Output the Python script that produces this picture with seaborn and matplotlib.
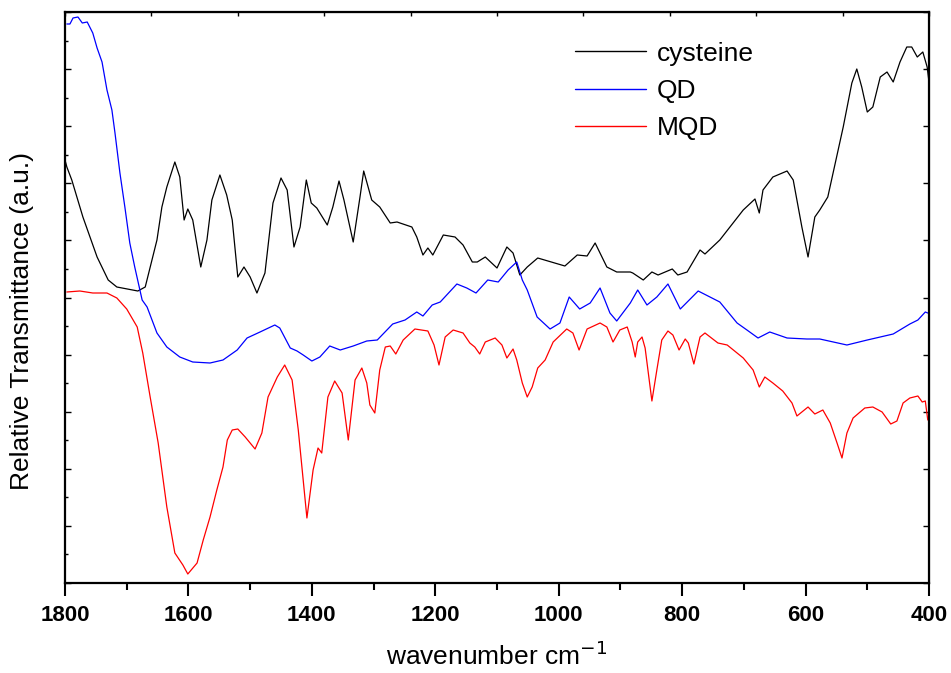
import numpy as np
import pandas as pd
import matplotlib
matplotlib.use("Agg")
import matplotlib.pyplot as plt
import seaborn as sns

# ---- data (wavenumber, relative transmittance in arbitrary units) ----
cys_wn = [1800, 1797, 1789, 1771, 1748, 1730, 1716, 1682, 1670, 1651, 1643, 1635, 1622, 1614,
          1607, 1601, 1593, 1580, 1570, 1562, 1549, 1538, 1529, 1520, 1510, 1500, 1489, 1476,
          1463, 1450, 1440, 1429, 1419, 1409, 1401, 1392, 1375, 1366, 1356, 1348, 1333, 1322,
          1316, 1303, 1290, 1273, 1262, 1238, 1230, 1220, 1212, 1204, 1187, 1168, 1155, 1140,
          1132, 1119, 1100, 1084, 1074, 1063, 1051, 1034, 990, 970, 954, 941, 922, 906, 884,
          880, 863, 849, 839, 816, 807, 792, 771, 763, 739, 701, 682, 675, 669, 653, 630, 620,
          606, 596, 585, 577, 564, 539, 525, 517, 509, 500, 491, 479, 468, 458, 447, 436, 428,
          419, 410, 403, 400]
cys_y = [423, 416, 403, 366, 326, 303, 296, 292, 296, 343, 376, 396, 421, 406,
         363, 374, 363, 316, 343, 383, 408, 388, 363, 306, 316, 306, 290, 310,
         380, 405, 393, 336, 356, 403, 380, 375, 358, 376, 402, 383, 341, 386,
         412, 383, 376, 360, 361, 356, 346, 328, 335, 328, 348, 346, 338, 321,
         321, 326, 315, 336, 330, 308, 316, 325, 317, 328, 327, 340, 316, 311, 311,
         310, 303, 311, 308, 314, 308, 311, 333, 329, 343, 373, 384, 370, 393, 406, 412, 403,
         356, 326, 366, 373, 386, 456, 500, 514, 496, 471, 476, 506, 511, 501, 521, 536, 536,
         526, 531, 516, 501]

qd_wn = [1797, 1792, 1787, 1779, 1772, 1764, 1755, 1748, 1740, 1732, 1724, 1719, 1711, 1703,
         1695, 1687, 1675, 1667, 1651, 1635, 1614, 1593, 1565, 1544, 1521, 1505, 1484, 1460,
         1452, 1435, 1424, 1414, 1400, 1387, 1371, 1354, 1333, 1311, 1294, 1269, 1249, 1230,
         1220, 1205, 1192, 1165, 1149, 1134, 1115, 1098, 1082, 1068, 1059, 1051, 1035, 1014,
         998, 983, 966, 949, 933, 917, 906, 884, 872, 857, 841, 823, 803, 774, 739, 711, 695,
         677, 658, 630, 598, 577, 533, 500, 458, 431, 418, 406, 402]
qd_y = [559, 559, 565, 566, 560, 561, 550, 535, 521, 493, 473, 450, 410, 376,
        340, 316, 283, 276, 250, 236, 226, 221, 220, 223, 233, 245, 251, 258,
        255, 235, 232, 228, 222, 226, 237, 233, 237, 242, 243, 259, 263, 271,
        267, 278, 281, 299, 295, 290, 303, 301, 313, 321, 303, 293, 266, 254,
        260, 286, 274, 280, 295, 270, 262, 280, 293, 278, 286, 299, 274, 292, 281, 260, 253,
        245, 251, 245, 244, 244, 238, 243, 249, 259, 263, 271, 270]

mqd_wn = [1797, 1776, 1755, 1732, 1716, 1700, 1683, 1674, 1662, 1649, 1635, 1622, 1609, 1601,
          1586, 1576, 1565, 1554, 1544, 1537, 1529, 1520, 1508, 1492, 1481, 1471, 1456, 1444,
          1432, 1422, 1408, 1398, 1390, 1384, 1374, 1363, 1351, 1341, 1330, 1319, 1311, 1306,
          1298, 1290, 1281, 1273, 1264, 1252, 1233, 1212, 1202, 1194, 1184, 1171, 1155, 1144,
          1136, 1128, 1119, 1103, 1092, 1084, 1074, 1068, 1059, 1051, 1043, 1034, 1022, 1009,
          987, 977, 967, 954, 933, 922, 912, 901, 889, 881, 876, 872, 865, 860, 849, 841, 833,
          823, 815, 805, 795, 790, 781, 771, 763, 742, 727, 701, 685, 675, 666, 653, 637, 622,
          614, 596, 585, 572, 560, 549, 541, 533, 523, 504, 491, 476, 462, 452, 442, 431, 418,
          411, 406, 402]
mqd_y = [291, 292, 290, 290, 285, 274, 256, 230, 186, 140, 76, 30, 18, 9,
         20, 43, 66, 93, 116, 143, 153, 154, 146, 134, 150, 186, 206, 218,
         203, 153, 65, 113, 135, 130, 186, 202, 190, 143, 203, 215, 200, 178,
         170, 213, 236, 237, 229, 243, 254, 252, 238, 218, 246, 253, 250, 240,
         236, 229, 241, 245, 238, 225, 234, 223, 200, 186, 196, 215, 223, 241,
         254, 250, 233, 254, 260, 256, 241, 253, 256, 241, 226, 241, 246, 235, 182, 213, 243,
         252, 248, 233, 244, 240, 219, 246, 250, 240, 238, 225, 213, 196, 206, 200, 192, 180,
         167, 176, 169, 173, 160, 140, 125, 150, 165, 175, 176, 171, 159, 162, 180, 185, 187,
         181, 182, 163]

series_names = ["cysteine", "QD", "MQD"]
colors = ["#000000", "#0000FF", "#FF0000"]
x_ticks = [1800, 1600, 1400, 1200, 1000, 800, 600, 400]

df = pd.concat([
    pd.DataFrame({"wn": cys_wn, "T": cys_y, "sample": "cysteine"}),
    pd.DataFrame({"wn": qd_wn, "T": qd_y, "sample": "QD"}),
    pd.DataFrame({"wn": mqd_wn, "T": mqd_y, "sample": "MQD"}),
], ignore_index=True)

sns.set_style("ticks")
plt.rcParams["font.family"] = ["Liberation Sans", "DejaVu Sans"]
plt.rcParams["text.color"] = "black"
plt.rcParams["axes.labelcolor"] = "black"
plt.rcParams["xtick.color"] = "black"
plt.rcParams["ytick.color"] = "black"

fig = plt.figure(figsize=(9.51, 6.73), dpi=100)
ax = fig.add_axes([65 / 951, 1 - 583 / 673, 864 / 951, 571 / 673])

sns.lineplot(data=df, x="wn", y="T", hue="sample", hue_order=series_names,
             palette=colors, estimator=None, sort=True, linewidth=0.9, ax=ax)

ax.set_xlim(1800, 400)
ax.set_ylim(0, 571)
ax.set_xticks(x_ticks)
ax.set_xticklabels([str(t) for t in x_ticks], fontsize=16, fontweight="bold", color="black")
ax.set_xticks(np.arange(1700, 400, -200), minor=True)
yt = np.linspace(0, 571, 11)
ax.set_yticks(yt)
ax.set_yticks((yt[:-1] + yt[1:]) / 2, minor=True)
ax.set_yticklabels([])
ax.tick_params(axis="x", which="major", direction="out", length=9.5, width=1.5, pad=6, colors="black")
ax.tick_params(axis="x", which="minor", direction="out", length=5, width=1.5, colors="black")
ax.tick_params(axis="y", which="major", direction="in", length=4, width=1.0, colors="black")
ax.tick_params(axis="y", which="minor", direction="in", length=2.5, width=1.0, colors="black")

for s in ax.spines.values():
    s.set_visible(True)
    s.set_linewidth(1.6)
    s.set_color("black")

# top and right inward ticks
top = ax.secondary_xaxis("top")
top.set_xticks(np.arange(1800, 399, -140))
top.set_xticklabels([])
top.tick_params(direction="in", length=3, width=1.0, colors="black")
right = ax.secondary_yaxis("right")
right.set_yticks(yt)
right.set_yticklabels([])
right.tick_params(direction="in", length=4, width=1.0, colors="black")

ax.set_xlabel("wavenumber cm$^{-1}$", fontsize=19, color="black")
ax.xaxis.set_label_coords(0.5, -0.103)
ax.set_ylabel("Relative Transmittance (a.u.)", fontsize=19, color="black")
ax.yaxis.set_label_coords(-0.036, 0.459)

leg = ax.legend(loc="upper left", bbox_to_anchor=(0.59, 0.948), frameon=False,
                fontsize=19, handlelength=2.7, handletextpad=0.4, labelspacing=0.5,
                borderpad=0, borderaxespad=0)
for line in leg.get_lines():
    line.set_linewidth(1.0)
for t in leg.get_texts():
    t.set_color("black")

fig.savefig("out.png", dpi=100)
